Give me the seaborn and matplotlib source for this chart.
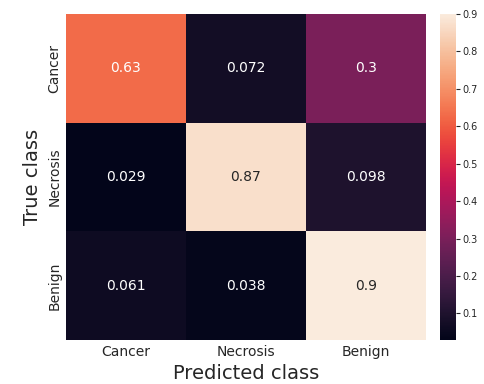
import numpy as np
import pandas as pd
import matplotlib
matplotlib.use("Agg")
import matplotlib.pyplot as plt
import seaborn as sns

classes = ["Cancer", "Necrosis", "Benign"]
cancer_row = [0.63, 0.072, 0.3]
necrosis_row = [0.029, 0.87, 0.098]
benign_row = [0.061, 0.038, 0.9]
cbar_ticks = [0.1, 0.2, 0.3, 0.4, 0.5, 0.6, 0.7, 0.8, 0.9]

cm = pd.DataFrame([cancer_row, necrosis_row, benign_row], index=classes, columns=classes)

plt.rcParams.update({"text.color": ".15", "axes.labelcolor": ".15",
                     "xtick.color": ".15", "ytick.color": ".15"})

fig = plt.figure(figsize=(4.85, 3.84), dpi=100)
W, H = 485, 384
ax = fig.add_axes([66 / W, 44 / H, 360 / W, 326 / H])
cax = fig.add_axes([440 / W, 44 / H, 16 / W, 326 / H])

sns.heatmap(cm, annot=True, fmt=".2g", cmap="rocket", ax=ax, cbar_ax=cax,
            annot_kws={"fontsize": 10},
            cbar_kws={"ticks": cbar_ticks})

ax.set_xlabel("Predicted class", fontsize=14)
ax.set_ylabel("True class", fontsize=14)
ax.tick_params(axis="both", labelsize=10, length=0)
plt.setp(ax.get_yticklabels(), rotation=90, va="center")
plt.setp(ax.get_xticklabels(), rotation=0)
cax.tick_params(labelsize=7, length=3, pad=1.5)

fig.savefig("out.png", dpi=100)
